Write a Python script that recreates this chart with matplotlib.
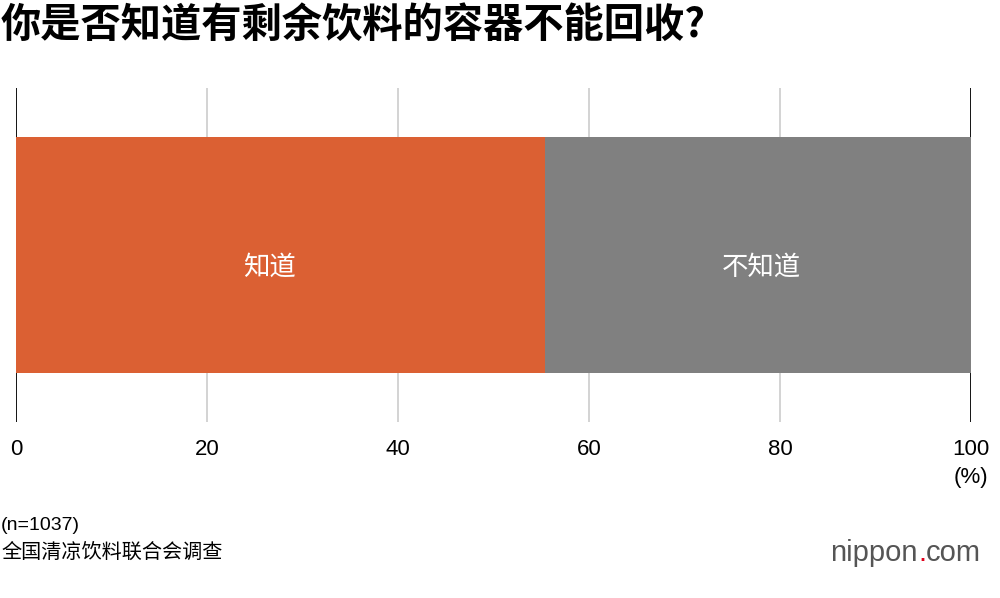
import matplotlib
matplotlib.use("Agg")
import matplotlib.pyplot as plt

plt.rcParams['font.family'] = ['Noto Sans CJK SC', 'DejaVu Sans']

categories = ["知道", "不知道"]
values = [55.4, 44.6]
colors = ["#db6033", "#808080"]
ticks = [0, 20, 40, 60, 80, 100]
label_shift = [-1.2, 0.3]

fig = plt.figure(figsize=(10, 5.98), dpi=100)
ax = fig.add_axes([0.016, 0.294, 0.955, 0.559])
ax.set_xlim(0, 100)
ax.set_ylim(0, 1)
for t in ticks:
    c = "black" if t in (0, 100) else "#cccccc"
    ax.axvline(t, color=c, lw=1.3 if t in (0, 100) else 1.2, zorder=0)
left = 0
for cat, v, col, sh in zip(categories, values, colors, label_shift):
    ax.barh(0.5, v, left=left, height=0.706, color=col, zorder=2)
    ax.text(left + v / 2 + sh, 0.465, cat, ha="center", va="center", color="white", fontsize=19, zorder=3)
    left += v
for s in ax.spines.values():
    s.set_visible(False)
ax.set_yticks([])
ax.set_xticks([])
for t in ticks:
    ax.text(t, -0.05, str(t), ha="center", va="top", fontsize=16, transform=ax.get_xaxis_transform(),
            family=['Liberation Sans', 'DejaVu Sans'])
ax.text(100, -0.135, "(%)", ha="center", va="top", fontsize=16, transform=ax.get_xaxis_transform(),
        family=['Liberation Sans', 'DejaVu Sans'])

fig.text(0.001, 0.958, "你是否知道有剩余饮料的容器不能回收?", fontsize=29, fontweight="bold", va="center", ha="left")
fig.text(0.001, 0.122, "(n=1037)", fontsize=14, va="center", ha="left", family=['Liberation Sans', 'DejaVu Sans'])
fig.text(0.001, 0.077, "全国清凉饮料联合会调查", fontsize=14.5, va="center", ha="left")
fig.text(0.918, 0.075, "nippon", fontsize=21, color="#555555", ha="right", va="center", family=['Liberation Sans'])
fig.text(0.918, 0.075, ".", fontsize=21, color="#e0001b", ha="left", va="center", family=['Liberation Sans'])
fig.text(0.926, 0.075, "com", fontsize=21, color="#555555", ha="left", va="center", family=['Liberation Sans'])
fig.savefig("out.png", dpi=100)
